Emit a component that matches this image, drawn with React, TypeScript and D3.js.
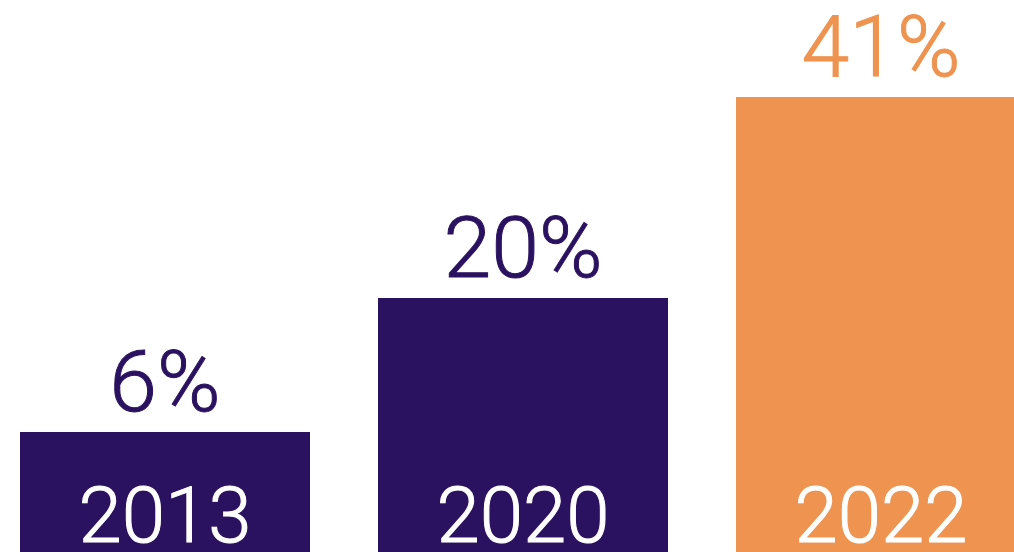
import React from "react";
import * as d3 from "d3";

const categories = ["2013", "2020", "2022"];
const values = [6, 20, 41];
const valueLabels = ["6%", "20%", "41%"];
const colors = ["#2b1260", "#2b1260", "#ee9350"];

const W = 1014;
const H = 552;

export default function App() {
  const x = d3
    .scaleBand<string>()
    .domain(categories)
    .range([20, 1026])
    .paddingInner(68 / 358)
    .paddingOuter(0);
  const y = d3.scaleLinear().domain([0, 45]).range([489.4, 489.4 - 45 * 9.572]);

  return (
    <svg
      width={W}
      height={H}
      style={{ position: "absolute", left: 0, top: 0, display: "block", background: "#fff" }}
      fontFamily="Roboto, 'Open Sans', sans-serif"
    >
      {categories.map((c, i) => {
        const bx = x(c)!;
        const bw = x.bandwidth();
        const top = Math.round(y(values[i]));
        const cx = bx + bw / 2;
        return (
          <g key={c}>
            <rect x={bx} y={top} width={bw} height={H + 20 - top} fill={colors[i]} />
            <text
              x={cx}
              y={top - 21}
              textAnchor="middle"
              fontSize={86}
              fontWeight={300}
              fill={colors[i]}
              stroke={colors[i]}
              strokeWidth={1}
            >
              {valueLabels[i]}
            </text>
            <text
              x={cx}
              y={542}
              textAnchor="middle"
              fontSize={78}
              fontWeight={300}
              fill="#ffffff"
              stroke="#ffffff"
              strokeWidth={1}
            >
              {c}
            </text>
          </g>
        );
      })}
    </svg>
  );
}
